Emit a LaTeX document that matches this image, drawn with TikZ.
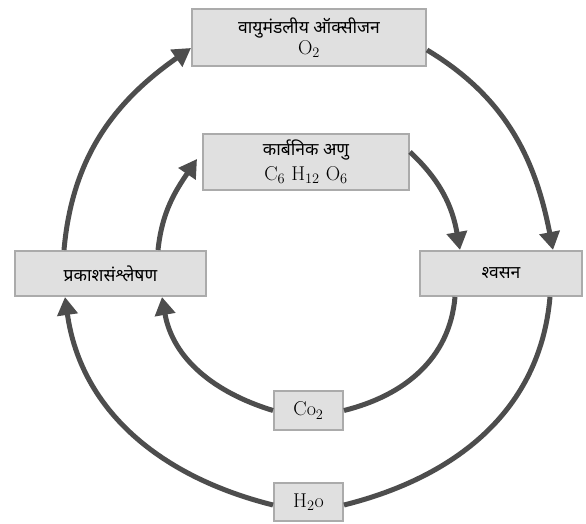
\documentclass[tikz,border=0pt]{standalone}
\usepackage{fontspec}
\newfontfamily\hindi[Script=Devanagari]{Noto Sans}
\usetikzlibrary{arrows.meta}
\definecolor{boxfill}{HTML}{E0E0E0}
\definecolor{boxline}{HTML}{ABABAB}
\definecolor{arrowcol}{HTML}{4D4D4D}
\tikzset{
 box/.style={draw=boxline, fill=boxfill, line width=2pt, inner sep=0pt, align=center},
 flow/.style={draw=arrowcol, line width=5pt},
 flowarrow/.style={flow, -{Triangle[length=18pt,width=20pt]}},
 hin/.style={font=\hindi\fontsize{17.5}{21}\selectfont},
}
\newcommand{\chemsize}{\fontsize{20}{22}\selectfont}
\begin{document}
\begin{tikzpicture}[x=1pt,y=1pt]
\useasboundingbox (0,0) rectangle (586,524);
\node[box, minimum width=234pt, minimum height=57pt] (top) at (309,486.5)
  {{\hindi\fontsize{17.5}{21}\selectfont वायुमंडलीय ऑक्सीजन}\\[1pt] {\chemsize O$_2$}};
\node[box, minimum width=206pt, minimum height=56pt] (M) at (306,362)
  {{\hindi\fontsize{17.5}{21}\selectfont कार्बनिक अणु}\\[5pt] {\chemsize C$_6$ H$_{12}$ O$_6$}};
\node[box, hin, minimum width=191pt, minimum height=45pt] (L) at (110.5,250.5) {प्रकाशसंश्लेषण};
\node[box, hin, minimum width=162pt, minimum height=45pt] (R) at (501,250.5) {श्वसन};
\node[box, minimum width=69pt, minimum height=39pt] (C) at (308.5,113.5) {\chemsize Co$_2$};
\node[box, minimum width=69pt, minimum height=38pt] (H) at (308.5,22) {\chemsize H$_2$o};

\draw[flowarrow] ([xshift=50pt]L.north west) to[out=85,in=215] ([yshift=-10.5pt]top.west);
\draw[flowarrow] ([yshift=-12.5pt]top.east) to[out=-31,in=101] ([xshift=134pt]R.north west);
\draw[flow] ([xshift=131pt]R.south west) to[out=-95,in=14] ([yshift=-3pt]H.east);
\draw[flowarrow] ([yshift=-3pt]H.west) to[out=166,in=-82] ([xshift=51pt]L.south west);

\draw[flowarrow] ([xshift=144pt]L.north west) to[out=84,in=236] ([xshift=-5pt,yshift=3pt]M.west);
\draw[flowarrow] ([yshift=10pt]M.east) to[out=-43,in=100] ([xshift=41pt]R.north west);
\draw[flow] ([xshift=36pt]R.south west) to[out=-95,in=14] (C.east);
\draw[flowarrow] (C.west) to[out=163,in=-80] ([xshift=148pt]L.south west);
\end{tikzpicture}
\end{document}
